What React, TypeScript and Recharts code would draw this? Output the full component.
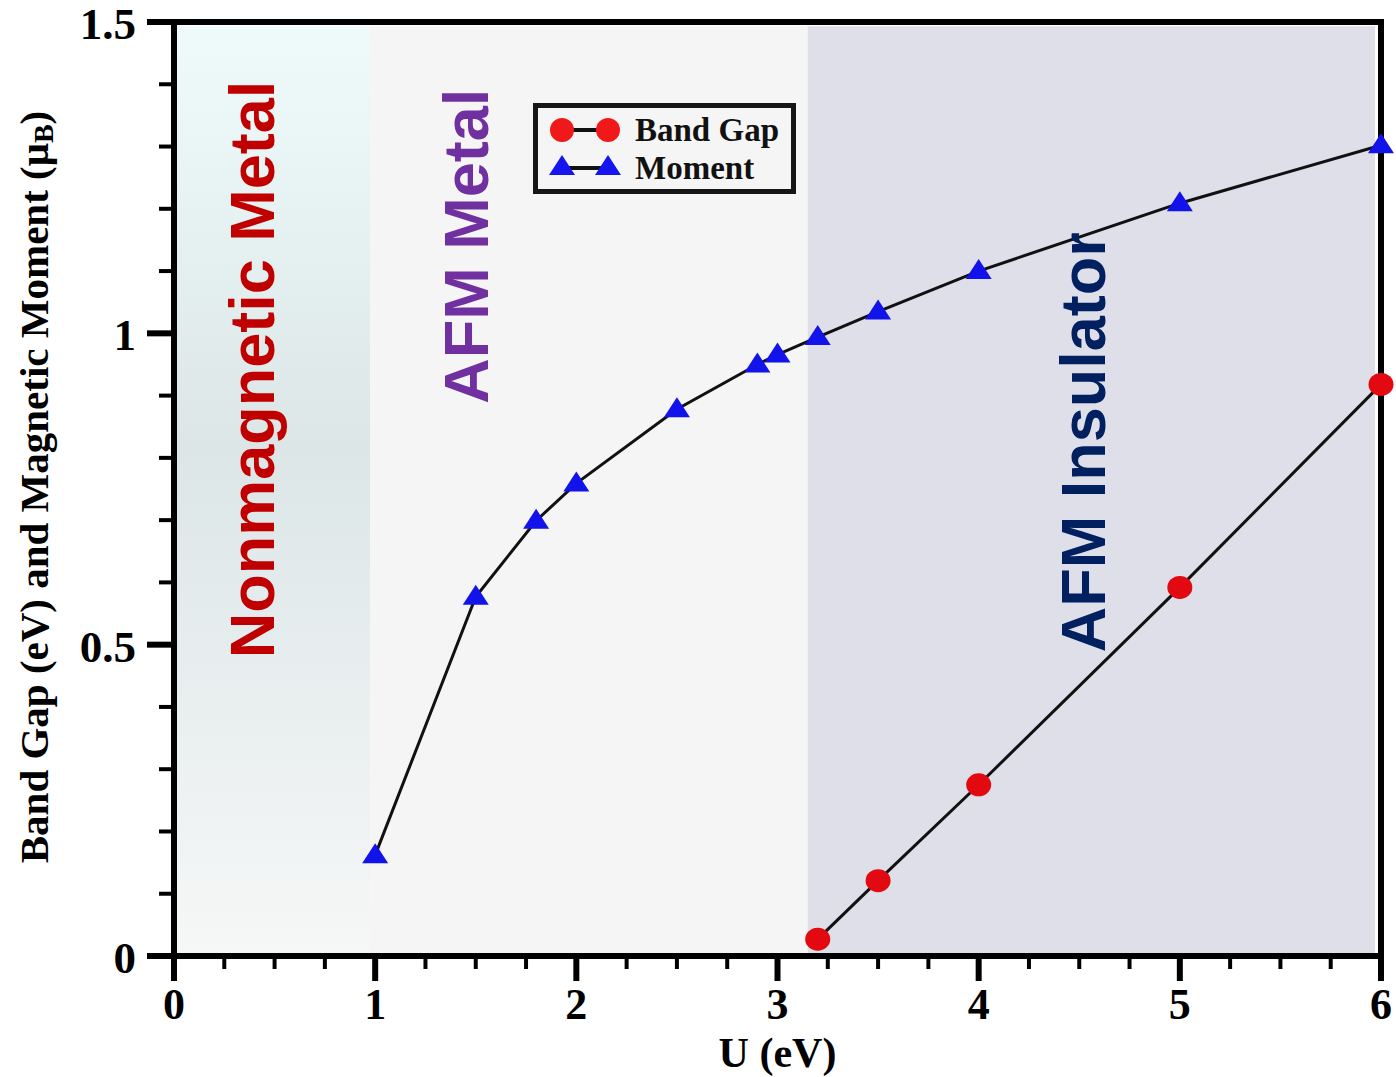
import React from 'react';
import {
  ComposedChart,
  Line,
  XAxis,
  YAxis,
  ReferenceArea,
  ReferenceLine,
  ReferenceDot,
} from 'recharts';

// On-site U (eV) and the computed moment / band gap
const uMoment = [1, 1.5, 1.8, 2, 2.5, 2.9, 3.0, 3.2, 3.5, 4, 5, 6];
const moment = [0.162, 0.577, 0.699, 0.759, 0.878, 0.95, 0.966, 0.994, 1.035, 1.1, 1.209, 1.302];
const uGap = [3.2, 3.5, 4, 5, 6];
const bandGap = [0.027, 0.121, 0.275, 0.592, 0.918];

// phase boundaries along U
const phaseNames = ['Nonmagnetic Metal', 'AFM Metal', 'AFM Insulator'];
const phaseFrom = [0, 0.975, 3.15];
const phaseTo = [0.975, 3.15, 5.97];
const phaseFill = ['url(#nmGrad)', '#f5f5f5', '#dedfe8'];
const phaseTextColor = ['#c00000', '#7030a0', '#002060'];
const phaseLabelU = [0.39, 1.45, 4.52];
const phaseLabelY = [0.942, 1.14, 0.825];

const xMajor = [0, 1, 2, 3, 4, 5, 6];
const yMajor = [0, 0.5, 1, 1.5];
const yMajorLabels = ['0', '0.5', '1', '1.5'];

const xTicks: number[] = [];
for (let i = 0; i <= 24; i++) xTicks.push(i * 0.25);
const yTicks: number[] = [];
for (let i = 0; i <= 15; i++) yTicks.push(Math.round(i * 10) / 100);

const momentData = uMoment.map((u, i) => ({ u, value: moment[i] }));
const gapData = uGap.map((u, i) => ({ u, value: bandGap[i] }));

const SERIF = '"Liberation Serif", "Times New Roman", serif';
const SANS = '"Liberation Sans", Arial, sans-serif';

const near = (a: number, b: number) => Math.abs(a - b) < 1e-6;

const XTick = (props: any) => {
  const { x, y, payload } = props;
  const v = payload.value;
  const major = xMajor.some((m) => near(m, v));
  return (
    <g>
      <line x1={x} x2={x} y1={y} y2={y + (major ? 25 : 13)} stroke="#000" strokeWidth={major ? 6 : 4} />
      {major && (
        <text x={x} y={y + 63} textAnchor="middle" fontFamily={SERIF} fontWeight="bold" fontSize={44} fill="#000">
          {String(v)}
        </text>
      )}
    </g>
  );
};

const YTick = (props: any) => {
  const { x, y, payload } = props;
  const v = payload.value;
  const idx = yMajor.findIndex((m) => near(m, v));
  const major = idx >= 0;
  return (
    <g>
      <line x1={x} x2={x - (major ? 27 : 15)} y1={y} y2={y} stroke="#000" strokeWidth={major ? 6 : 4} />
      {major && (
        <text x={x - 38} y={y + 17} textAnchor="end" fontFamily={SERIF} fontWeight="bold" fontSize={45} fill="#000">
          {yMajorLabels[idx]}
        </text>
      )}
    </g>
  );
};

const Triangle = (props: any) => {
  const { cx, cy, index } = props;
  if (cx == null || cy == null) return <g key={`t-${index}`} />;
  return (
    <path
      key={`t-${index}`}
      d={`M${cx},${cy - 12} L${cx + 13},${cy + 8} L${cx - 13},${cy + 8} Z`}
      fill="#1212ea"
    />
  );
};

const RedDot = (props: any) => {
  const { cx, cy, index } = props;
  if (cx == null || cy == null) return <g key={`c-${index}`} />;
  return <ellipse key={`c-${index}`} cx={cx} cy={cy} rx={12.5} ry={11.5} fill="#e20a10" />;
};

const phaseLabel = (name: string, color: string) => (props: any) => {
  const { viewBox } = props;
  const cx = viewBox.x + viewBox.width / 2;
  const cy = viewBox.y + viewBox.height / 2;
  return (
    <text
      x={cx}
      y={cy}
      transform={`rotate(-90 ${cx} ${cy})`}
      textAnchor="middle"
      dominantBaseline="central"
      fontFamily={SANS}
      fontWeight="bold"
      fontSize={63}
      fill={color}
    >
      {name}
    </text>
  );
};

const YLabel = (props: any) => {
  const { viewBox } = props;
  const x = 34;
  const y = viewBox.y + viewBox.height / 2 - 2;
  return (
    <text
      x={x}
      y={y}
      transform={`rotate(-90 ${x} ${y})`}
      textAnchor="middle"
      dominantBaseline="central"
      fontFamily={SERIF}
      fontWeight="bold"
      fontSize={41}
      fill="#000"
    >
      Band Gap (eV) and Magnetic Moment (μ
      <tspan fontSize={28} dy={9}>B</tspan>
      <tspan dy={-9}>)</tspan>
    </text>
  );
};

const XLabel = (props: any) => {
  const { viewBox } = props;
  const x = viewBox.x + viewBox.width / 2;
  return (
    <text x={x} y={1067} textAnchor="middle" fontFamily={SERIF} fontWeight="bold" fontSize={42} fill="#000">
      U (eV)
    </text>
  );
};

const legendItems = [
  { name: 'Band Gap', marker: 'circle' },
  { name: 'Moment', marker: 'triangle' },
];

const LegendBox = () => (
  <div
    style={{
      position: 'absolute',
      left: 533,
      top: 103,
      width: 263,
      height: 91,
      boxSizing: 'border-box',
      border: '5px solid #161616',
      background: '#f5f5f5',
    }}
  >
    <svg width={253} height={81}>
      {legendItems.map((item, i) => {
        const cy = 22 + i * 38;
        return (
          <g key={item.name}>
            <line x1={24} x2={70} y1={cy} y2={cy} stroke="#111" strokeWidth={4} />
            {item.marker === 'circle' ? (
              <>
                <circle cx={24} cy={cy} r={12} fill="#f01818" />
                <circle cx={70} cy={cy} r={12} fill="#f01818" />
              </>
            ) : (
              <>
                <path d={`M24,${cy - 13} L37,${cy + 7} L11,${cy + 7} Z`} fill="#1515f0" />
                <path d={`M70,${cy - 13} L83,${cy + 7} L57,${cy + 7} Z`} fill="#1515f0" />
              </>
            )}
            <text x={97} y={cy + 11} fontFamily={SERIF} fontWeight="bold" fontSize={33} fill="#111">
              {item.name}
            </text>
          </g>
        );
      })}
    </svg>
  </div>
);

export default function App() {
  return (
    <div style={{ position: 'absolute', left: 0, top: 0, width: 1396, height: 1077, background: '#fff' }}>
      <ComposedChart width={1396} height={1077} margin={{ top: 22, right: 15, bottom: 0, left: 0 }}>
        <defs>
          <linearGradient id="nmGrad" x1="0" y1="0" x2="0" y2="1">
            <stop offset="0%" stopColor="#effbfb" />
            <stop offset="45%" stopColor="#dce6e7" />
            <stop offset="100%" stopColor="#f6f7f7" />
          </linearGradient>
        </defs>
        <XAxis
          dataKey="u"
          type="number"
          domain={[0, 6]}
          ticks={xTicks}
          interval={0}
          height={121}
          tickSize={0}
          tickMargin={0}
          tickLine={false}
          axisLine={{ stroke: '#000', strokeWidth: 6 }}
          tick={<XTick />}
          label={<XLabel />}
        />
        <YAxis
          type="number"
          domain={[0, 1.5]}
          ticks={yTicks}
          interval={0}
          width={174}
          tickSize={0}
          tickMargin={0}
          tickLine={false}
          axisLine={{ stroke: '#000', strokeWidth: 6 }}
          tick={<YTick />}
          label={<YLabel />}
        />
        {phaseNames.map((name, i) => (
          <ReferenceArea
            key={name}
            x1={phaseFrom[i]}
            x2={phaseTo[i]}
            y1={0}
            y2={1.493}
            fill={phaseFill[i]}
            fillOpacity={1}
            stroke="none"
          />
        ))}
        <ReferenceLine y={1.5} stroke="#000" strokeWidth={6} strokeLinecap="square" />
        <ReferenceLine x={6} stroke="#000" strokeWidth={6} strokeLinecap="square" />
        <Line
          data={momentData}
          dataKey="value"
          name="Moment"
          stroke="#111"
          strokeWidth={3}
          dot={<Triangle />}
          activeDot={false}
          isAnimationActive={false}
        />
        <Line
          data={gapData}
          dataKey="value"
          name="Band Gap"
          stroke="#111"
          strokeWidth={3}
          dot={<RedDot />}
          activeDot={false}
          isAnimationActive={false}
        />
        {phaseNames.map((name, i) => (
          <ReferenceDot
            key={`lbl-${name}`}
            x={phaseLabelU[i]}
            y={phaseLabelY[i]}
            r={0}
            fill="none"
            stroke="none"
            label={phaseLabel(name, phaseTextColor[i])}
          />
        ))}
      </ComposedChart>
      <LegendBox />
    </div>
  );
}
